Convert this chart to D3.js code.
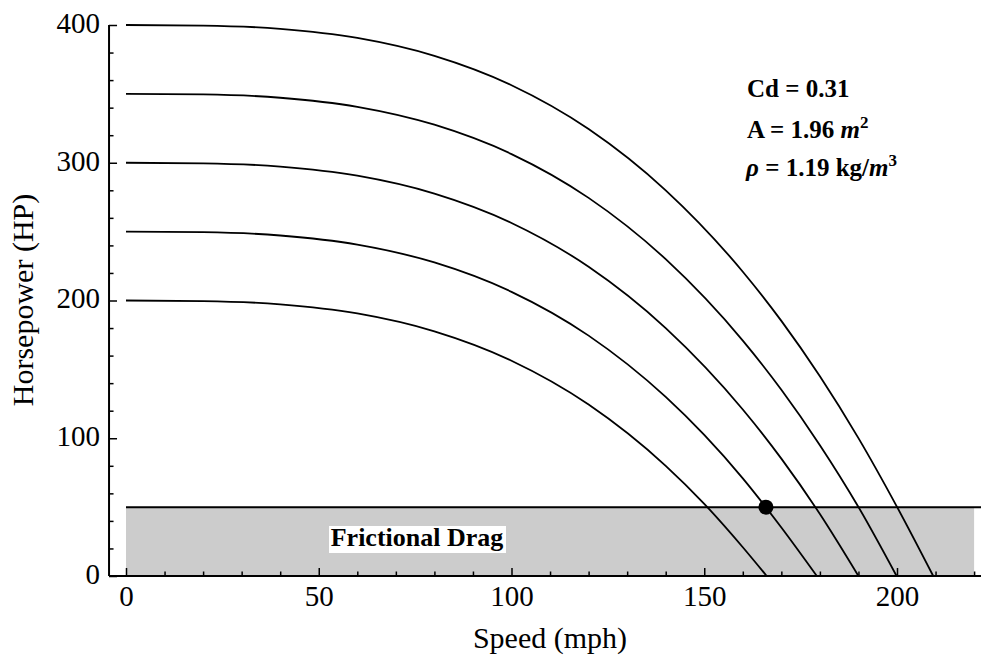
<!DOCTYPE html>
<html lang="en">
<head>
<meta charset="UTF-8">
<title>Horsepower vs Speed</title>
<script src="https://d3js.org/d3.v7.min.js"></script>
<style>
    body { margin: 0; background: #fff; }
    svg text { font-family: "Liberation Serif", "Times New Roman", serif; fill: #000; }
</style>
</head>
<body>
<svg id="chart" width="981" height="657"></svg>
<script>
    // speeds (mph)
    var speeds200 = [0, 20, 40, 60, 80, 100, 120, 140, 150, 160, 166.2];
    var hp200 = [200, 199.6, 197.2, 190.6, 177.6, 156.3, 124.5, 80, 52.4, 20.9, 0];

    var speeds250 = [0, 20, 40, 60, 80, 100, 120, 140, 150, 160, 170, 179.2];
    var hp250 = [250, 249.6, 247.2, 240.6, 227.6, 206.3, 174.5, 130, 102.4, 70.9, 35.2, 0];

    var speeds300 = [0, 20, 40, 60, 80, 100, 120, 140, 160, 170, 180, 190];
    var hp300 = [300, 299.6, 297.2, 290.6, 277.6, 256.3, 224.5, 180, 120.9, 85.2, 45, 0];

    var speeds350 = [0, 20, 40, 60, 80, 100, 120, 140, 160, 170, 180, 190, 199.9];
    var hp350 = [350, 349.6, 347.2, 340.6, 327.6, 306.3, 274.5, 230, 170.9, 135.2, 95, 50.1, 0];

    var speeds400 = [0, 20, 40, 60, 80, 100, 120, 140, 160, 170, 180, 190, 200, 209.4];
    var hp400 = [400, 399.6, 397.2, 390.6, 377.6, 356.3, 324.5, 280, 220.9, 185.2, 145, 100.1, 50.2, 0];

    var frictionHP = 50;
    var frictionRange = [0, 220];
    var pointSpeed = 166, pointHP = 50;

    var xMajor = [0, 50, 100, 150, 200];
    var xMinor = [10, 20, 30, 40, 60, 70, 80, 90, 110, 120, 130, 140, 160, 170, 180, 190, 210, 220];
    var yMajor = [0, 100, 200, 300, 400];
    var yMinor = [20, 40, 60, 80, 120, 140, 160, 180, 220, 240, 260, 280, 320, 340, 360, 380];

    var curves = [
        {speed: speeds200, hp: hp200},
        {speed: speeds250, hp: hp250},
        {speed: speeds300, hp: hp300},
        {speed: speeds350, hp: hp350},
        {speed: speeds400, hp: hp400}
    ];

    var svg = d3.select("#chart");

    var x = d3.scaleLinear().domain([0, 200]).range([126, 897]);
    var y = d3.scaleLinear().domain([0, 400]).range([576, 25]);

    var xLeft = x(-4.4), xRight = 981;

    // frictional drag band
    svg.append("rect")
        .attr("x", x(frictionRange[0]))
        .attr("y", y(frictionHP))
        .attr("width", x(frictionRange[1]) - x(frictionRange[0]))
        .attr("height", y(0) - y(frictionHP))
        .attr("fill", "#cccccc");

    svg.append("line")
        .attr("x1", x(frictionRange[0])).attr("x2", xRight)
        .attr("y1", y(frictionHP)).attr("y2", y(frictionHP))
        .attr("stroke", "#000").attr("stroke-width", 2);

    // label box
    var lbl = svg.append("g");
    lbl.append("rect")
        .attr("x", 329).attr("y", 526).attr("width", 177).attr("height", 27)
        .attr("fill", "#fff");
    lbl.append("text")
        .attr("x", 417).attr("y", 546)
        .attr("text-anchor", "middle")
        .style("font-size", "26px").style("font-weight", "bold")
        .text("Frictional Drag");

    // curves
    var line = d3.line()
        .x(function(d) { return x(d[0]); })
        .y(function(d) { return y(d[1]); })
        .curve(d3.curveMonotoneX);

    svg.selectAll(".curve")
        .data(curves)
        .enter()
        .append("path")
        .attr("class", "curve")
        .attr("fill", "none")
        .attr("stroke", "#000")
        .attr("stroke-width", 1.8)
        .attr("d", function(c) {
            return line(c.speed.map(function(s, i) { return [s, c.hp[i]]; }));
        });

    // x axis
    var gx = svg.append("g").attr("transform", "translate(0," + y(0) + ")");
    gx.call(d3.axisBottom(x).tickValues(xMajor).tickSizeInner(-8).tickSizeOuter(0).tickPadding(9));
    gx.select(".domain").remove();
    gx.selectAll("text").style("font-size", "29px").attr("font-family", null);
    gx.selectAll("line").attr("stroke-width", 1.5);

    var gxm = svg.append("g").attr("transform", "translate(0," + y(0) + ")");
    gxm.call(d3.axisBottom(x).tickValues(xMinor).tickSizeInner(-4.5).tickSizeOuter(0).tickFormat(""));
    gxm.select(".domain").remove();
    gxm.selectAll("line").attr("stroke-width", 1.5);

    svg.append("line")
        .attr("x1", xLeft).attr("x2", xRight)
        .attr("y1", y(0)).attr("y2", y(0))
        .attr("stroke", "#000").attr("stroke-width", 2);

    // y axis
    var gy = svg.append("g").attr("transform", "translate(" + xLeft + ",0)");
    gy.call(d3.axisLeft(y).tickValues(yMajor).tickSizeInner(-8).tickSizeOuter(0).tickPadding(9));
    gy.select(".domain").remove();
    gy.selectAll("text").style("font-size", "29px").attr("font-family", null).attr("dy", "0.25em");
    gy.selectAll("line").attr("stroke-width", 1.5);

    var gym = svg.append("g").attr("transform", "translate(" + xLeft + ",0)");
    gym.call(d3.axisLeft(y).tickValues(yMinor).tickSizeInner(-4.5).tickSizeOuter(0).tickFormat(""));
    gym.select(".domain").remove();
    gym.selectAll("line").attr("stroke-width", 1.5);

    svg.append("line")
        .attr("x1", xLeft).attr("x2", xLeft)
        .attr("y1", y(0)).attr("y2", y(400))
        .attr("stroke", "#000").attr("stroke-width", 2);

    // operating point
    svg.append("circle")
        .attr("cx", x(pointSpeed)).attr("cy", y(pointHP))
        .attr("r", 7.5).attr("fill", "#000");

    // axis titles
    svg.append("text")
        .attr("x", 550).attr("y", 648)
        .attr("text-anchor", "middle")
        .style("font-size", "30px")
        .text("Speed (mph)");

    svg.append("text")
        .attr("transform", "translate(33,300) rotate(-90)")
        .attr("text-anchor", "middle")
        .style("font-size", "30px")
        .text("Horsepower (HP)");

    // parameters
    var params = svg.append("g").style("font-size", "25px").style("font-weight", "bold");
    params.append("text").attr("x", 747).attr("y", 97).text("Cd = 0.31");

    var t2 = params.append("text").attr("x", 747).attr("y", 138);
    t2.append("tspan").text("A = 1.96 ");
    t2.append("tspan").style("font-style", "italic").text("m");
    t2.append("tspan").attr("dy", -10).style("font-size", "17px").text("2");

    var t3 = params.append("text").attr("x", 746).attr("y", 176);
    t3.append("tspan").style("font-style", "italic").text("ρ");
    t3.append("tspan").text(" = 1.19 kg/");
    t3.append("tspan").style("font-style", "italic").text("m");
    t3.append("tspan").attr("dy", -10).style("font-size", "17px").text("3");
</script>
</body>
</html>
